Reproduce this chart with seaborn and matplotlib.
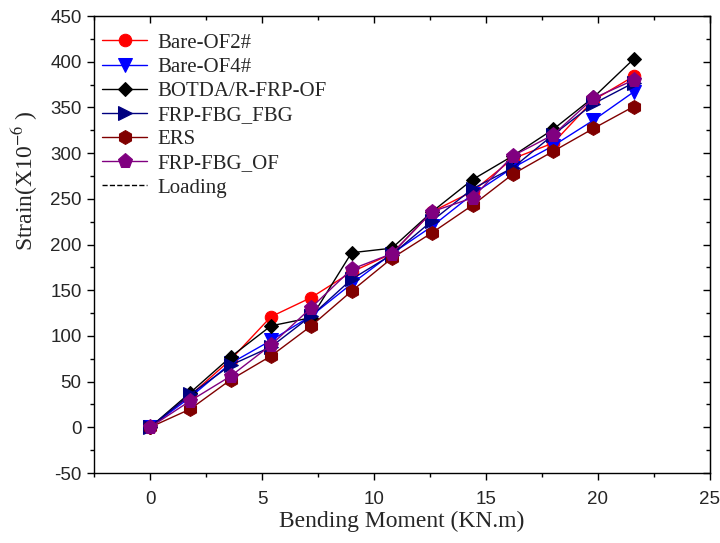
import matplotlib
matplotlib.use("Agg")
import matplotlib.pyplot as plt
from matplotlib.lines import Line2D
from matplotlib.ticker import MultipleLocator, NullFormatter
import seaborn as sns

# bending moment (KN.m)
moment = [0, 1.8, 3.6, 5.4, 7.2, 9.0, 10.8, 12.6, 14.4, 16.2, 18.0, 19.8, 21.6]

# strain (x10^-6) for each sensor
bare_of2 = [0, 35, 74, 121, 142, 170, 190, 236, 258, 294, 311, 358, 384]
bare_of4 = [0, 33, 70, 95, 122, 157, 190, 220, 255, 284, 308, 336, 367]
botda = [0, 38, 77, 111, 120, 191, 196, 236, 271, 297, 326, 361, 403]
frp_fbg_fbg = [0, 36, 68, 88, 122, 162, 189, 226, 261, 284, 320, 354, 377]
ers = [0, 20, 52, 78, 111, 149, 185, 213, 243, 277, 302, 327, 351]
frp_fbg_of = [0, 29, 56, 90, 131, 173, 190, 236, 251, 297, 320, 360, 380]

series = [
    ("Bare-OF2#", bare_of2, "#FF0000", "o", 9),
    ("Bare-OF4#", bare_of4, "#0000FF", "v", 10),
    ("BOTDA/R-FRP-OF", botda, "#000000", "D", 7),
    ("FRP-FBG_FBG", frp_fbg_fbg, "#000080", ">", 10),
    ("ERS", ers, "#800000", "h", 10),
    ("FRP-FBG_OF", frp_fbg_of, "#800080", "p", 11),
]

sns.set_style("ticks")
plt.rcParams["font.family"] = ["Liberation Serif", "DejaVu Serif"]
plt.rcParams["mathtext.fontset"] = "stix"
plt.rcParams["axes.unicode_minus"] = False

fig = plt.figure(figsize=(7.2, 5.43), dpi=100)
ax = fig.add_axes([0.1306, 0.1289, 0.8554, 0.8416])

for name, vals, col, mk, ms in series:
    sns.lineplot(x=moment, y=vals, ax=ax, color=col, marker=mk, markersize=ms,
                 markeredgecolor=col, linewidth=1, label=name)

ax.set_xlim(-2.5, 25)
ax.set_ylim(-50, 450)
ax.xaxis.set_major_locator(MultipleLocator(5))
ax.xaxis.set_minor_locator(MultipleLocator(2.5))
ax.yaxis.set_major_locator(MultipleLocator(50))
ax.yaxis.set_minor_locator(MultipleLocator(25))
ax.tick_params(which="both", direction="out", width=1, color="black")
ax.tick_params(which="major", length=5)
ax.tick_params(which="minor", length=3)
ax.tick_params(axis="x", pad=8)
ax.tick_params(axis="y", pad=4)
for lab in ax.get_xticklabels() + ax.get_yticklabels():
    lab.set_fontfamily(["Liberation Sans", "DejaVu Sans"])
    lab.set_fontsize(13.5)

# inner ticks on top and right
top = ax.secondary_xaxis("top")
top.xaxis.set_major_locator(MultipleLocator(5))
top.xaxis.set_minor_locator(MultipleLocator(2.5))
top.xaxis.set_major_formatter(NullFormatter())
right = ax.secondary_yaxis("right")
right.yaxis.set_major_locator(MultipleLocator(50))
right.yaxis.set_minor_locator(MultipleLocator(25))
right.yaxis.set_major_formatter(NullFormatter())
for sec in (top, right):
    sec.tick_params(which="both", direction="in", width=1, color="black")
    sec.tick_params(which="major", length=5)
    sec.tick_params(which="minor", length=3)

for sp in ax.spines.values():
    sp.set_linewidth(1)
    sp.set_color("black")

ax.set_xlabel("Bending Moment (KN.m)", fontsize=17, labelpad=2)
ax.set_ylabel("Strain(X10$^{-6}$ )", fontsize=17)
ax.yaxis.set_label_coords(-0.088, 0.64)

handles, labels = ax.get_legend_handles_labels()
handles.append(Line2D([], [], color="black", linestyle="--", linewidth=1))
labels.append("Loading")
ax.legend(handles, labels, loc="upper left", frameon=False, fontsize=15,
          handlelength=2.2, labelspacing=0.22, borderaxespad=0.2,
          handletextpad=0.5, bbox_to_anchor=(-0.008, 0.99))

fig.savefig("out.png", dpi=100)
